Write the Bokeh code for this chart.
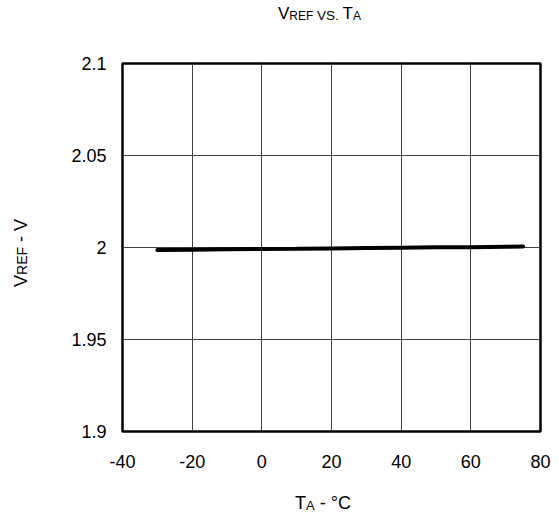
from bokeh.plotting import figure
from bokeh.models import Range1d, FixedTicker, Div
from bokeh.layouts import column, row
from bokeh.embed import file_html
from bokeh.resources import INLINE

# ---- data ----
temps = [-30, -20, -10, 0, 10, 20, 30, 40, 50, 60, 70, 75]
vref = [1.9986, 1.9988, 1.9990, 1.9992, 1.9993, 1.9995, 1.9997, 1.9999, 2.0001, 2.0002, 2.0004, 2.0005]
x_ticks = [-40, -20, 0, 20, 40, 60, 80]
x_tick_labels = ["-40", "-20", "0", "20", "40", "60", "80"]
y_ticks = [1.9, 1.95, 2.0, 2.05, 2.1]
y_tick_labels = ["1.9", "1.95", "2", "2.05", "2.1"]

FONT = "Liberation Sans"
TOTAL_W = 551
TITLE_H = 30      # height of the title strip
YLAB_W = 40       # width of the y-label strip
XLAB_H = 34       # height of the x-label strip
FRAME_L, FRAME_T, FRAME_W, FRAME_H = 122, 63, 418, 368   # page px

fig_w = TOTAL_W - YLAB_W
fig_border_left = FRAME_L - YLAB_W
fig_border_top = FRAME_T - TITLE_H
fig_border_right = fig_w - fig_border_left - FRAME_W
fig_border_bottom = 45
fig_h = fig_border_top + FRAME_H + fig_border_bottom

p = figure(width=fig_w, height=fig_h, output_backend="svg", toolbar_location=None,
           x_range=Range1d(-40, 80), y_range=Range1d(1.9, 2.1),
           min_border_left=fig_border_left, min_border_right=fig_border_right,
           min_border_top=fig_border_top, min_border_bottom=fig_border_bottom,
           margin=0)
p.title = None
p.background_fill_color = "white"
p.border_fill_color = "white"
p.outline_line_color = "black"
p.outline_line_width = 2.5

p.line(temps, vref, line_color="black", line_width=4, line_cap="round")

for ax in (p.xaxis[0], p.yaxis[0]):
    ax.axis_line_color = None
    ax.major_tick_line_color = None
    ax.minor_tick_line_color = None
    ax.major_label_text_font = FONT
    ax.major_label_text_font_size = "18px"
    ax.major_label_text_color = "black"

p.xaxis.ticker = FixedTicker(ticks=x_ticks)
p.yaxis.ticker = FixedTicker(ticks=y_ticks)
p.xaxis.major_label_overrides = {t: l for t, l in zip(x_ticks, x_tick_labels)}
p.yaxis.major_label_overrides = {t: l for t, l in zip(y_ticks, y_tick_labels)}
p.xaxis.major_label_standoff = 17
p.yaxis.major_label_standoff = 10

p.xgrid.ticker = FixedTicker(ticks=x_ticks)
p.ygrid.ticker = FixedTicker(ticks=y_ticks)
for g in (p.xgrid[0], p.ygrid[0]):
    g.grid_line_color = "#404040"
    g.grid_line_width = 1

ASC = 0.922  # baseline offset (em) from the top of a line-height:normal box


def span(text, left, baseline, size):
    top = baseline - ASC * size
    return (f'<span style="position:absolute;left:{left:.1f}px;top:{top:.1f}px;'
            f'font-family:\'{FONT}\';font-size:{size}px;line-height:normal;'
            f'white-space:nowrap;color:black">{text}</span>')


# title "VREF VS. TA" (small caps), baseline at page y = 20
title_html = (span("V", 278, 20, 17) + span("REF", 289.3, 20, 12) +
              span("VS.", 317, 20, 13.5) + span("T", 342.5, 20, 17) +
              span("A", 352.9, 20, 12))
title_div = Div(text=title_html, width=TOTAL_W, height=TITLE_H, margin=0,
                styles={"position": "relative"})

# x-axis label "TA - °C", baseline at page y = 510
xb = 510 - (TITLE_H + fig_h)
xlab_html = (span("T", 295, xb, 18) + span("A", 306, xb, 13) +
             span("&nbsp;-&nbsp;°C", 314.7, xb, 18))
xlab_div = Div(text=xlab_html, width=TOTAL_W, height=XLAB_H, margin=0,
               styles={"position": "relative"})

# y-axis label "VREF - V", rotated, baseline at page x = 28, starting at page y = 287
yl_left = 28 - ASC * 18
yl_top = 287 - TITLE_H
ylab_html = (f'<div style="position:absolute;left:{yl_left:.1f}px;top:{yl_top:.1f}px;'
             f'transform:rotate(-90deg);transform-origin:0 0;white-space:nowrap;'
             f'font-family:\'{FONT}\';font-size:18px;line-height:normal;color:black">'
             f'V<span style="font-size:14px">REF</span> - V</div>')
ylab_div = Div(text=ylab_html, width=YLAB_W, height=fig_h, margin=0,
               styles={"position": "relative"})

layout = column(title_div, row(ylab_div, p, spacing=0), xlab_div, spacing=0)

open("out.html", "w").write(file_html(layout, INLINE))
